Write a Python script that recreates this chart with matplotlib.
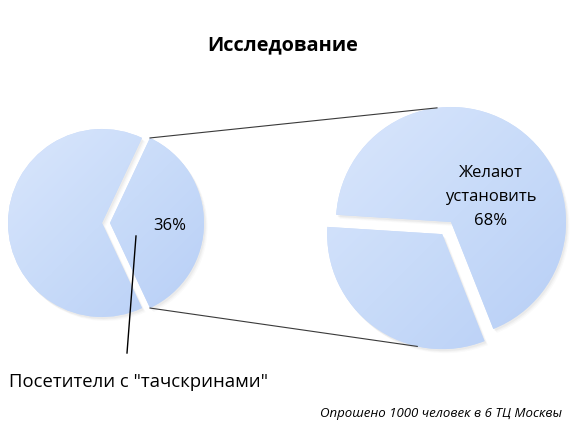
"""
Pie-of-pie: share of mall visitors with touchscreens, and of those, who want to install one.
"""
import numpy as np
import matplotlib.pyplot as plt
from matplotlib.colors import LinearSegmentedColormap

W, H = 580, 434

# data
left_values = [36, 64]
left_labels = ["36%", ""]
right_values = [68, 32]
right_labels = ["Желают\nустановить\n68%", ""]

title = "Исследование"
callout = "Посетители с \"тачскринами\""
note = "Опрошено 1000 человек в 6 ТЦ Москвы"

plt.rcParams["font.family"] = ["Open Sans", "DejaVu Sans"]

fig = plt.figure(figsize=(W / 100, H / 100), dpi=100)
ax = fig.add_axes([0, 0, 1, 1])

grad_cmap = LinearSegmentedColormap.from_list("pie", ["#d9e6fc", "#c8dbf9", "#b8cff6"])


def py(y):
    # pixel row -> data y
    return H - y


def draw_pie(values, center, radius, startangle, explode):
    # explode is in data units (pixels here), not a fraction of the radius
    wedges, _ = ax.pie(values, center=center, radius=radius, startangle=startangle,
                       explode=explode, colors=["#c9dbf9"] * len(values),
                       wedgeprops=dict(linewidth=0), frame=True)
    for w in wedges:
        cx, cy = w.center
        r = w.r
        # soft shadow
        for k, a in enumerate([0.06, 0.04, 0.03]):
            sh = type(w)((cx + 1.5 + k, cy - 2 - k), r, w.theta1, w.theta2,
                         color="#606060", alpha=a, linewidth=0, zorder=0.5)
            ax.add_patch(sh)
        w.set_zorder(1)
        xs = np.linspace(0, 1, 64)
        gx, gy = np.meshgrid(xs, xs)
        grad = (gx + gy) / 2
        im = ax.imshow(grad, extent=(cx - r, cx + r, cy - r, cy + r), origin="upper",
                       cmap=grad_cmap, vmin=0, vmax=1, zorder=1.5, interpolation="bicubic")
        im.set_clip_path(w)
    return wedges


lw = draw_pie(left_values, (102, py(223)), 94, -64.8, [8, 0])
rw = draw_pie(right_values, (451, py(222)), 115, -68.4, [0, 15])


def edge_point(w, ang):
    cx, cy = w.center
    return cx + w.r * np.cos(np.radians(ang)), cy + w.r * np.sin(np.radians(ang))


# connector lines from the 36% slice to the second pie
p1 = edge_point(lw[0], lw[0].theta2)
p2 = edge_point(rw[0], 97)
p3 = edge_point(lw[0], lw[0].theta1)
p4 = edge_point(rw[1], 257.5)
ax.plot([p1[0], p2[0]], [p1[1], p2[1]], color="#3a3a3a", lw=0.8, zorder=3)
ax.plot([p3[0], p4[0]], [p3[1], p4[1]], color="#3a3a3a", lw=0.8, zorder=3)

# slice labels
ax.text(170, py(226), left_labels[0], fontsize=12, ha="center", va="center", zorder=4)
ax.text(491, py(197), right_labels[0], fontsize=12, ha="center", va="center",
        linespacing=1.7, zorder=4)

# callout
ax.plot([136, 127], [py(236), py(353)], color="black", lw=1.0, zorder=4)
ax.text(9, py(382), callout, fontsize=13.3, ha="left", va="center", zorder=4)

ax.text(283, py(45), title, fontsize=14.3, fontweight="bold", ha="center", va="center")
ax.text(562, py(414), note, fontsize=9.5, style="italic", ha="right", va="center")

ax.set_xlim(0, W)
ax.set_ylim(0, H)
ax.set_aspect("equal")
ax.axis("off")

fig.savefig("out.png", dpi=100, facecolor="white")
